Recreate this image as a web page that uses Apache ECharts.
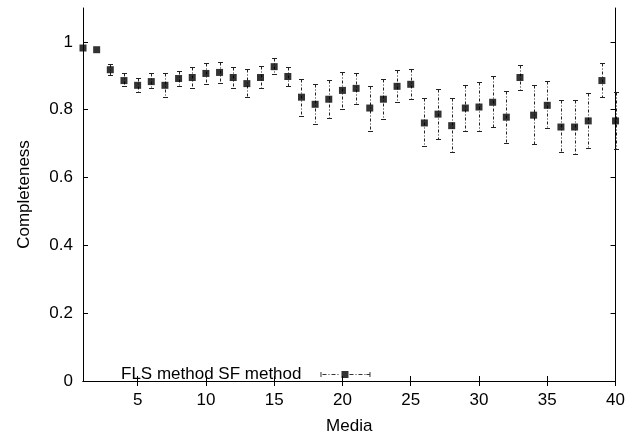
<!DOCTYPE html>
<html>
<head>
<meta charset="utf-8">
<script src="https://cdn.jsdelivr.net/npm/echarts@6/dist/echarts.min.js"></script>
<style>
html,body{margin:0;padding:0;background:#fff;}
#main{width:628px;height:440px;}
</style>
</head>
<body>
<div id="main"></div>
<script>
var media = [1,2,3,4,5,6,7,8,9,10,11,12,13,14,15,16,17,18,19,20,21,22,23,24,25,26,27,28,29,30,31,32,33,34,35,36,37,38,39,40];
var completeness = [0.982,0.977,0.918,0.886,0.872,0.883,0.872,0.892,0.895,0.907,0.910,0.895,0.877,0.895,0.927,0.898,0.837,0.816,0.831,0.857,0.863,0.805,0.831,0.869,0.875,0.761,0.787,0.753,0.805,0.808,0.822,0.778,0.895,0.784,0.813,0.749,0.749,0.767,0.886,0.767];
var lowerErr = [0.982,0.977,0.901,0.869,0.851,0.863,0.839,0.871,0.863,0.875,0.879,0.865,0.837,0.863,0.904,0.869,0.781,0.758,0.775,0.801,0.816,0.737,0.773,0.822,0.831,0.694,0.714,0.676,0.737,0.737,0.749,0.702,0.857,0.700,0.746,0.676,0.670,0.688,0.837,0.684];
var upperErr = [0.982,0.977,0.934,0.907,0.895,0.907,0.907,0.915,0.927,0.938,0.941,0.927,0.921,0.930,0.953,0.927,0.892,0.877,0.889,0.912,0.907,0.869,0.892,0.918,0.921,0.834,0.860,0.834,0.872,0.883,0.898,0.854,0.933,0.872,0.886,0.828,0.828,0.848,0.938,0.851];
var xTicks = [5,10,15,20,25,30,35,40];
var yTicks = [0,0.2,0.4,0.6,0.8,1];
var seriesName = 'FLS method SF method';

var pointData = media.map(function(m,i){ return [m, completeness[i]]; });
var errData = media.map(function(m,i){ return [m, lowerErr[i], upperErr[i]]; });

var FONT = 'Liberation Sans, Arial, sans-serif';
var FS = 17;
var chart = echarts.init(document.getElementById('main'), null, {renderer:'canvas'});

var axisLine = {show:true, lineStyle:{color:'#000', width:1}};
var tickStyle = {show:true, inside:true, length:5, lineStyle:{color:'#000', width:1}};

var legendIcon = 'path://M0,1.5h1v5h-1Z' +
  'M2,3.5h4v1h-4Z M8,3.5h1v1h-1Z M11,3.5h4v1h-4Z M17,3.5h1v1h-1Z' +
  'M21,0.5h7v7h-7Z' +
  'M29,3.5h4v1h-4Z M35,3.5h1v1h-1Z M38,3.5h4v1h-4Z M44,3.5h1v1h-1Z M46,3.5h3v1h-3Z' +
  'M49,1.5h1v5h-1Z';

chart.setOption({
  animation:false,
  backgroundColor:'#fff',
  grid:{left:83, right:10, top:8, bottom:55},
  legend:{
    data:[seriesName],
    left:116, top:361,
    align:'right',
    icon:legendIcon,
    itemWidth:50, itemHeight:7,
    itemStyle:{color:'#000'},
    textStyle:{fontFamily:FONT, fontSize:FS, color:'#000', padding:[0,14,0,0]}
  },
  xAxis:[{
    type:'value', min:1, max:40, position:'bottom',
    name:'Media', nameLocation:'middle', nameGap:37,
    nameTextStyle:{fontFamily:FONT, fontSize:FS, color:'#000'},
    axisLine:axisLine,
    axisTick:Object.assign({customValues:xTicks}, tickStyle),
    axisLabel:{customValues:xTicks, fontFamily:FONT, fontSize:FS, color:'#000', margin:11},
    splitLine:{show:false}
  },{
    type:'value', min:1, max:40, position:'top',
    axisLine:axisLine,
    axisTick:Object.assign({customValues:xTicks}, tickStyle),
    axisLabel:{show:false},
    splitLine:{show:false}
  }],
  yAxis:[{
    type:'value', min:0, max:1.1, position:'left',
    name:'Completeness', nameLocation:'middle', nameGap:50, nameRotate:90,
    nameTextStyle:{fontFamily:FONT, fontSize:FS, color:'#000'},
    axisLine:axisLine,
    axisTick:Object.assign({customValues:yTicks}, tickStyle),
    axisLabel:{customValues:yTicks, fontFamily:FONT, fontSize:FS, color:'#000', margin:10,
      formatter:function(v){ return String(Math.round(v*10)/10); }},
    splitLine:{show:false}
  },{
    type:'value', min:0, max:1.1, position:'right',
    axisLine:axisLine,
    axisTick:Object.assign({customValues:yTicks}, tickStyle),
    axisLabel:{show:false},
    splitLine:{show:false}
  }],
  series:[{
    type:'custom',
    xAxisIndex:0, yAxisIndex:0,
    data:errData,
    clip:false,
    silent:true,
    renderItem:function(params, api){
      var x = api.value(0), lo = api.value(1), hi = api.value(2);
      if (hi - lo < 1e-6) return null;
      var pLo = api.coord([x, lo]);
      var pHi = api.coord([x, hi]);
      var cx = Math.round(pLo[0]) + 0.5;
      var yl = Math.round(pLo[1]) + 0.5, yh = Math.round(pHi[1]) + 0.5;
      var cap = 2.5;
      var st = {stroke:'#222', lineWidth:1, lineDash:[3,2,1,2]};
      var cs = {stroke:'#222', lineWidth:1};
      return {type:'group', children:[
        {type:'line', shape:{x1:cx, y1:yh, x2:cx, y2:yl}, style:st},
        {type:'line', shape:{x1:cx-cap, y1:yh, x2:cx+cap, y2:yh}, style:cs},
        {type:'line', shape:{x1:cx-cap, y1:yl, x2:cx+cap, y2:yl}, style:cs}
      ]};
    },
    z:2
  },{
    name:seriesName,
    type:'scatter',
    xAxisIndex:0, yAxisIndex:0,
    data:pointData,
    symbol:'rect',
    symbolSize:7,
    itemStyle:{color:'#000'},
    clip:false,
    z:3
  }]
});
</script>
</body>
</html>
